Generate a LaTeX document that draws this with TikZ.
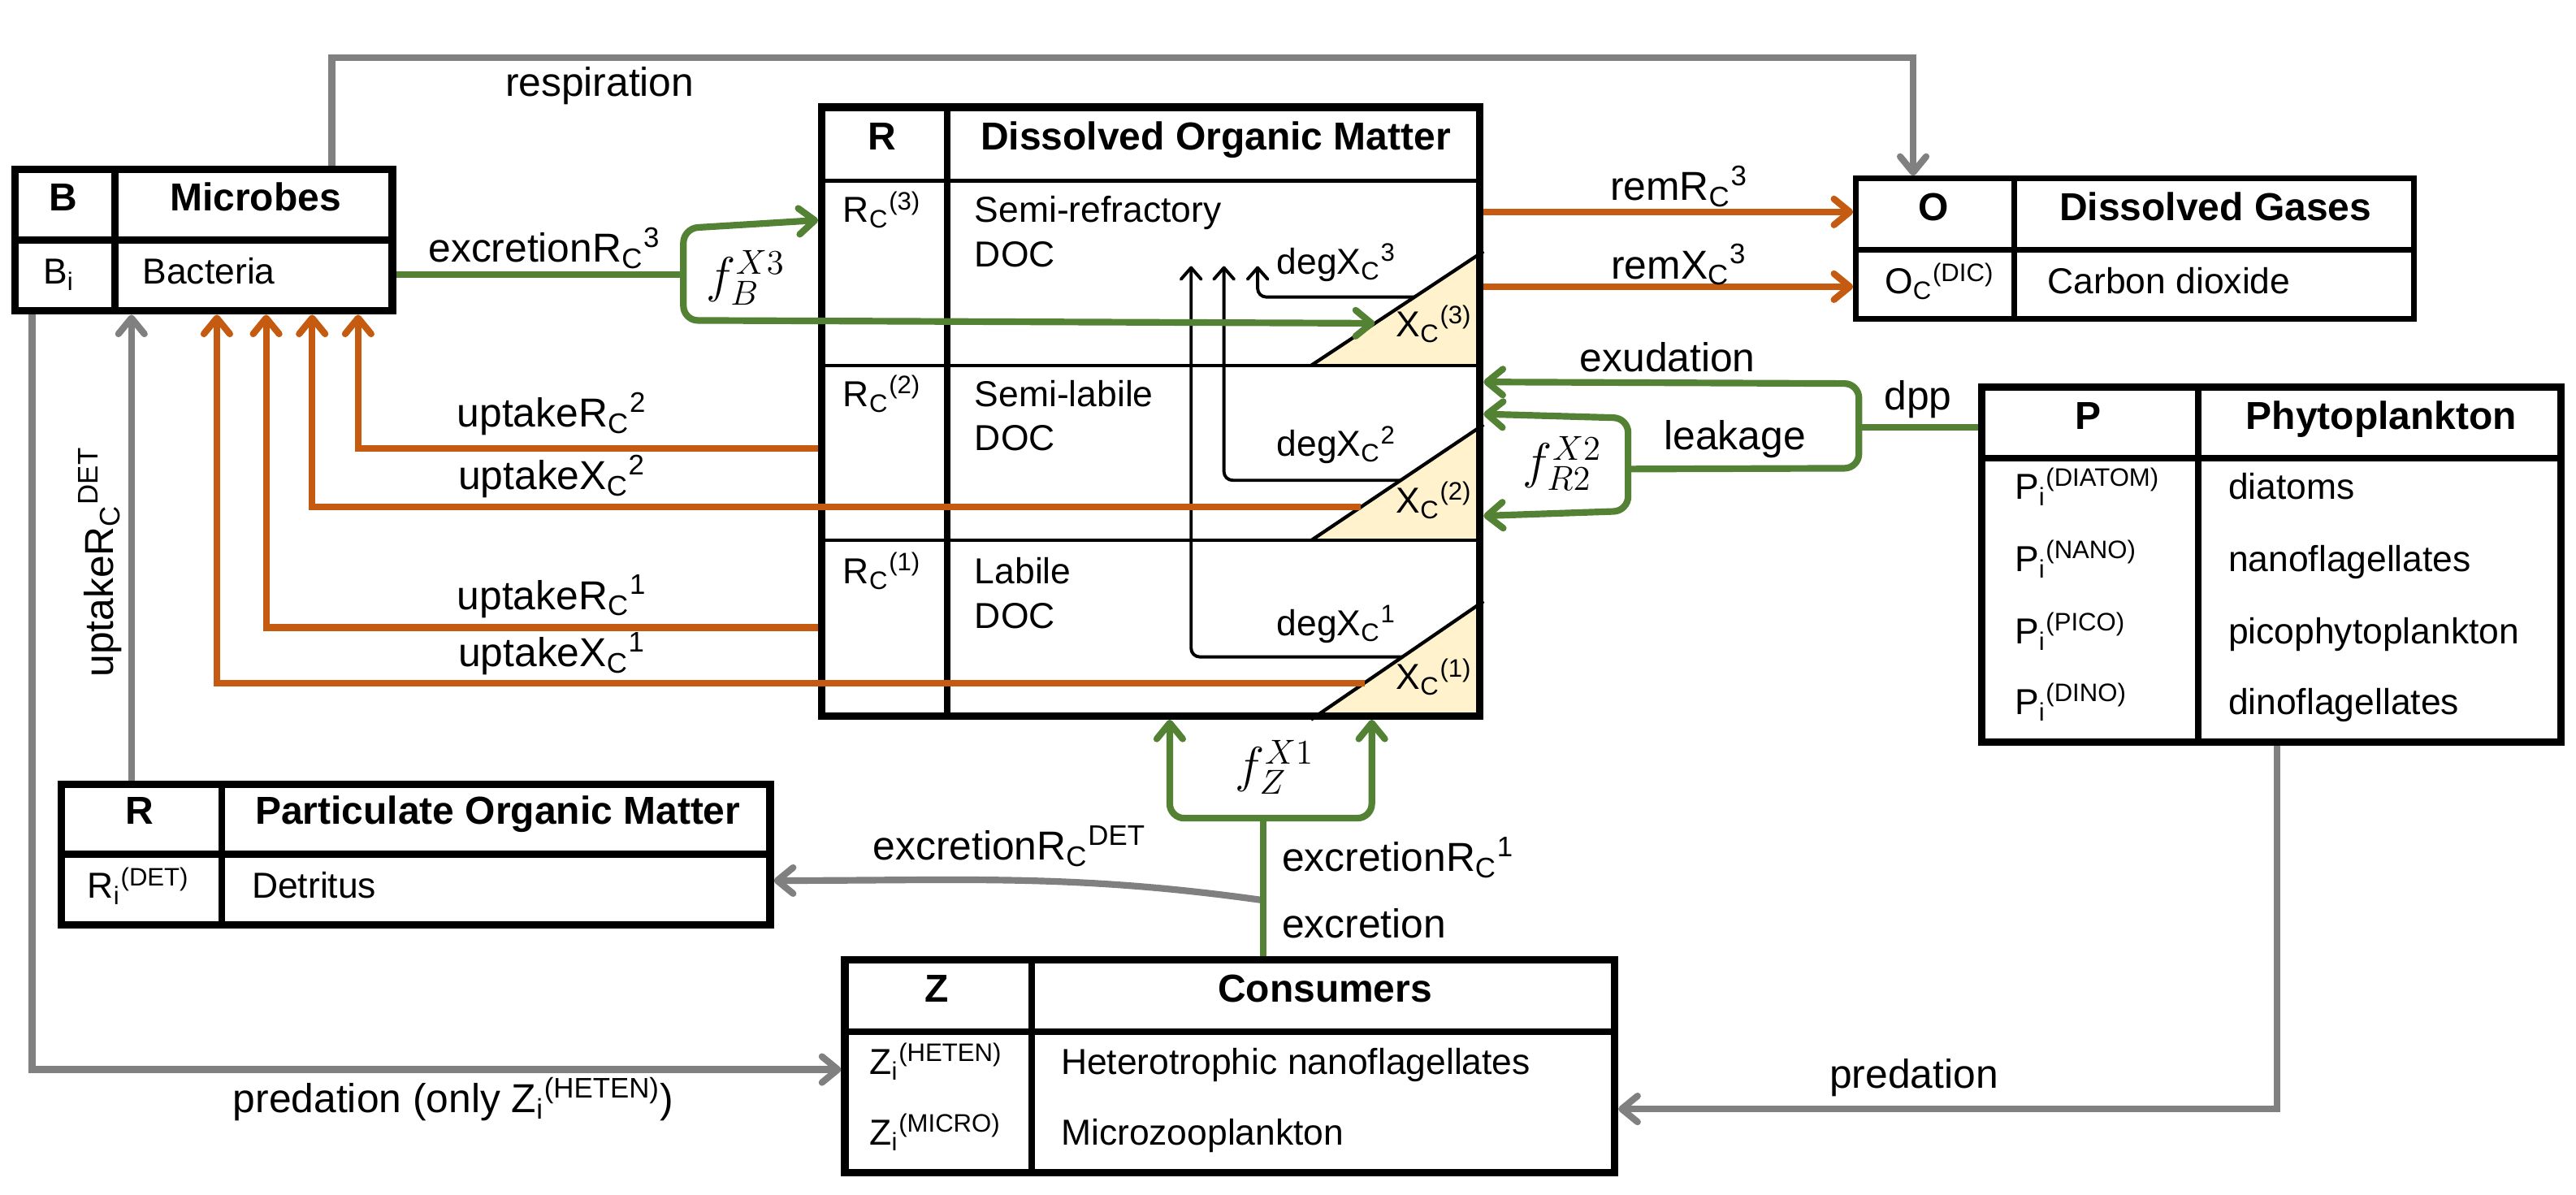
\documentclass[tikz,border=0pt]{standalone}
\usepackage{fontspec}
\setmainfont{Liberation Sans}
\usetikzlibrary{arrows.meta,calc,positioning}

\definecolor{grn}{RGB}{84,130,53}
\definecolor{org}{RGB}{197,90,17}
\definecolor{gry}{RGB}{128,128,128}
\definecolor{yel}{RGB}{255,242,204}

\newcommand{\sbsp}[3]{#1\textsubscript{#2}\textsuperscript{#3}}

\tikzset{
  tbox/.style={draw, line width=2.6pt, anchor=north west, inner sep=0pt},
  divline/.style={line width=2.4pt},
  thindiv/.style={line width=1.2pt},
  hd/.style={font=\fontsize{13.5}{16}\selectfont\bfseries, inner sep=0pt, text height=0.72em, text depth=0.18em},
  cell/.style={font=\fontsize{12.5}{15}\selectfont, inner sep=0pt, text height=0.72em, text depth=0.18em},
  lbl/.style={font=\fontsize{14}{16}\selectfont, inner sep=0pt},
  flbl/.style={font=\fontsize{18.5}{20}\selectfont, inner sep=0pt},
  arr/.style={line width=2.3pt, >={Straight Barb[length=5.5pt,width=9pt,round]}},
  degarr/.style={line width=1.1pt, rounded corners=3pt, -{Straight Barb[length=4pt,width=7pt,round]}}
}

\begin{document}
\begin{tikzpicture}
\useasboundingbox (0,0) rectangle (31.36,14.54);

% yellow X pools inside the DOM box
\foreach \k/\yb/\yt in {3/10.09/11.48, 2/7.96/9.37, 1/5.78/7.22} {
  \fill[yel] (15.96,\yb) -- (18.06,\yt) -- (18.06,\yb) -- cycle;
  \coordinate (ta\k) at (15.96,\yb);
  \coordinate (tb\k) at (18.06,\yt);
}

% boxes
\node[tbox, minimum width=4.59cm, minimum height=1.72cm] (mic) at (0.14,12.52) {};
\node[tbox, minimum width=8.01cm, minimum height=7.41cm] (dom) at (9.96,13.28) {};
\node[tbox, minimum width=8.63cm, minimum height=1.71cm] (pom) at (0.70,5.04) {};
\node[tbox, minimum width=9.37cm, minimum height=2.59cm] (con) at (10.24,2.90) {};
\node[tbox, line width=2pt, minimum width=6.79cm, minimum height=1.71cm] (gas) at (22.56,12.40) {};
\node[tbox, minimum width=7.05cm, minimum height=4.32cm] (phy) at (24.08,9.87) {};

\draw[divline] (1.40,12.52) -- (1.40,10.71);
\draw[divline] (0.14,11.62) -- (4.82,11.62);
\draw[divline] (11.53,13.28) -- (11.53,5.78);
\foreach \y in {12.34,10.09,7.96}
  \draw[thindiv] (9.96,\y) -- (18.06,\y);
\foreach \k in {1,2,3}
  \draw[thindiv] (ta\k) -- (tb\k);
\draw[divline] (2.70,5.04) -- (2.70,3.24);
\draw[divline] (0.70,4.14) -- (9.42,4.14);
\draw[divline] (12.56,2.90) -- (12.56,0.22);
\draw[divline] (10.24,1.98) -- (19.70,1.98);
\draw[line width=1.8pt] (24.52,12.40) -- (24.52,10.62);
\draw[line width=1.8pt] (22.56,11.50) -- (29.42,11.50);
\draw[divline] (26.76,9.87) -- (26.76,5.46);
\draw[divline] (24.08,8.96) -- (31.22,8.96);

% box texts
\node[hd] (micA) at (0.77,12.07) {B};
\node[hd] (micB) at (3.11,12.07) {Microbes};
\node[cell, anchor=west] (micC) at (0.52,11.18) {B\textsubscript{i}};
\node[cell, anchor=west] (micD) at (1.73,11.18) {Bacteria};

\node[hd] (domA) at (10.74,12.81) {R};
\node[hd] (domB) at (14.80,12.81) {Dissolved Organic Matter};
\foreach \k/\y/\nm in {3/11.93/Semi-refractory, 2/9.69/Semi-labile, 1/7.53/Labile} {
  \node[cell] (rc\k) at (10.74,\y) {\sbsp{R}{C}{(\k)}};
  \node[cell, anchor=west] (nm\k) at (11.86,\y) {\nm};
  \node[cell, anchor=west] (doc\k) at (11.86,\y-0.54) {DOC};
}
\foreach \k/\y in {3/10.54, 2/8.39, 1/6.24}
  \node[cell] (xc\k) at (17.46,\y) {\sbsp{X}{C}{(\k)}};
\foreach \k/\y in {3/11.30, 2/9.08, 1/6.90}
  \node[cell] (ldeg\k) at (16.27,\y) {\sbsp{degX}{C}{\k}};

\node[hd] (pomA) at (1.70,4.60) {R};
\node[hd] (pomB) at (6.06,4.60) {Particulate Organic Matter};
\node[cell, anchor=west] (pomC) at (1.06,3.70) {\sbsp{R}{i}{(DET)}};
\node[cell, anchor=west] (pomD) at (3.06,3.70) {Detritus};

\node[hd] (conA) at (11.40,2.44) {Z};
\node[hd] (conB) at (16.13,2.44) {Consumers};
\node[cell, anchor=west] (conC) at (10.58,1.56) {\sbsp{Z}{i}{(HETEN)}};
\node[cell, anchor=west] (conD) at (12.91,1.56) {Heterotrophic nanoflagellates};
\node[cell, anchor=west] (conE) at (10.58,0.70) {\sbsp{Z}{i}{(MICRO)}};
\node[cell, anchor=west] (conF) at (12.91,0.70) {Microzooplankton};

\node[hd] (gasA) at (23.54,11.95) {O};
\node[hd] (gasB) at (26.97,11.95) {Dissolved Gases};
\node[cell, anchor=west] (gasC) at (22.94,11.06) {\sbsp{O}{C}{(DIC)}};
\node[cell, anchor=west] (gasD) at (24.92,11.06) {Carbon dioxide};

\node[hd] (phyA) at (25.42,9.41) {P};
\node[hd] (phyB) at (28.99,9.41) {Phytoplankton};
\foreach \y/\s/\n [count=\i] in {8.56/DIATOM/diatoms, 7.68/NANO/nanoflagellates, 6.80/PICO/picophytoplankton, 5.94/DINO/dinoflagellates} {
  \node[cell, anchor=west] (phyL\i) at (24.52,\y) {\sbsp{P}{i}{(\s)}};
  \node[cell, anchor=west] (phyR\i) at (27.12,\y) {\n};
}

% junctions and end points
\coordinate (jB) at (8.32,11.20);
\coordinate (jP) at (22.63,9.34);
\coordinate (jL) at (19.82,8.83);
\coordinate (jZ) at (15.38,4.58);
\coordinate (jD) at (15.38,3.58);
\coordinate (x3in) at ($(ta3)!0.37!(tb3)$);
\coordinate (x2up) at ($(ta2)!0.29!(tb2)$);
\coordinate (x1up) at ($(ta1)!0.31!(tb1)$);

% degradation
\draw[degarr] ($(ta3)!0.60!(tb3)$) -| (15.31,11.30);
\draw[degarr] ($(ta2)!0.52!(tb2)$) -| (14.90,11.30);
\draw[degarr] ($(ta1)!0.53!(tb1)$) -| (14.50,11.30);

% grey fluxes
\draw[gry, arr, ->] (mic.north -| 4.04,0) |- (12,13.84) -| (gas.north -| 23.29,0);
\draw[gry, arr, ->] (pom.north -| 1.60,0) -- (mic.south -| 1.60,0);
\draw[gry, arr, ->] (mic.south -| 0.39,0) |- (con.west |- 0,1.52);
\draw[gry, arr, ->] (phy.south -| 27.72,0) |- (con.east |- 0,1.04);
\draw[gry, arr, ->] (jD) to[out=172,in=0] (pom.east |- 0,3.82);

% orange fluxes
\draw[org, arr, ->] (dom.west |- 0,9.08) -| (mic.south -| 4.36,0);
\draw[org, arr, ->] (x2up) -| (mic.south -| 3.80,0);
\draw[org, arr, ->] (dom.west |- 0,6.90) -| (mic.south -| 3.24,0);
\draw[org, arr, ->] (x1up) -| (mic.south -| 2.64,0);
\draw[org, arr, ->] (dom.east |- 0,11.96) -- (gas.west |- 0,11.96);
\draw[org, arr, ->] (dom.east |- 0,11.05) -- (gas.west |- 0,11.05);

% green fluxes
\draw[grn, arr] (mic.east |- jB) -- (jB);
\draw[grn, arr, <->, rounded corners=5pt] (dom.west |- 0,11.86) -- (8.32,11.76) -- (8.32,10.64) -- (x3in);
\draw[grn, arr] (phy.west |- jP) -- (jP);
\draw[grn, arr, <-, rounded corners=5pt] (dom.east |- 0,9.89) -- (22.63,9.87) -- (22.63,8.84) -- (jL);
\draw[grn, arr, <->, rounded corners=5pt] (dom.east |- 0,9.50) -- (19.82,9.45) -- (19.82,8.32) -- (dom.east |- 0,8.26);
\draw[grn, arr] (con.north -| jZ) -- (jZ);
\draw[grn, arr, <->, rounded corners=5pt] (dom.south -| 14.24,0) -- (14.24,4.58) -- (16.70,4.58) -- (dom.south -| 16.70,0);

% labels
\node[lbl] (lresp) at (7.30,13.50) {respiration};
\node[lbl] (lexc3) at (6.63,11.52) {\sbsp{excretionR}{C}{3}};
\node[flbl] (fb) at (9.08,11.16) {$f_B^{X3}$};
\node[lbl] (lupr2) at (6.72,9.50) {\sbsp{uptakeR}{C}{2}};
\node[lbl] (lupx2) at (6.72,8.74) {\sbsp{uptakeX}{C}{2}};
\node[lbl] (lupr1) at (6.72,7.28) {\sbsp{uptakeR}{C}{1}};
\node[lbl] (lupx1) at (6.72,6.58) {\sbsp{uptakeX}{C}{1}};
\node[lbl, rotate=90] (lupdet) at (1.22,7.70) {\sbsp{uptakeR}{C}{DET}};
\node[lbl] (lremr) at (20.44,12.27) {\sbsp{remR}{C}{3}};
\node[lbl] (lremx) at (20.44,11.32) {\sbsp{remX}{C}{3}};
\node[lbl] (lexu) at (20.30,10.19) {exudation};
\node[lbl] (lleak) at (21.12,9.19) {leakage};
\node[lbl] (ldpp) at (23.35,9.68) {dpp};
\node[flbl] (fr) at (19.02,8.90) {$f_{R2}^{X2}$};
\node[flbl] (fz) at (15.52,5.20) {$f_Z^{X1}$};
\node[lbl] (lexcdet) at (12.29,4.24) {\sbsp{excretionR}{C}{DET}};
\node[lbl, anchor=west] (lexc1) at (15.60,4.10) {\sbsp{excretionR}{C}{1}};
\node[lbl, anchor=west] (lexc) at (15.60,3.30) {excretion};
\node[lbl] (lpredz) at (5.52,1.16) {predation (only \sbsp{Z}{i}{(HETEN)})};
\node[lbl] (lpredp) at (23.30,1.42) {predation};
\end{tikzpicture}
\end{document}
